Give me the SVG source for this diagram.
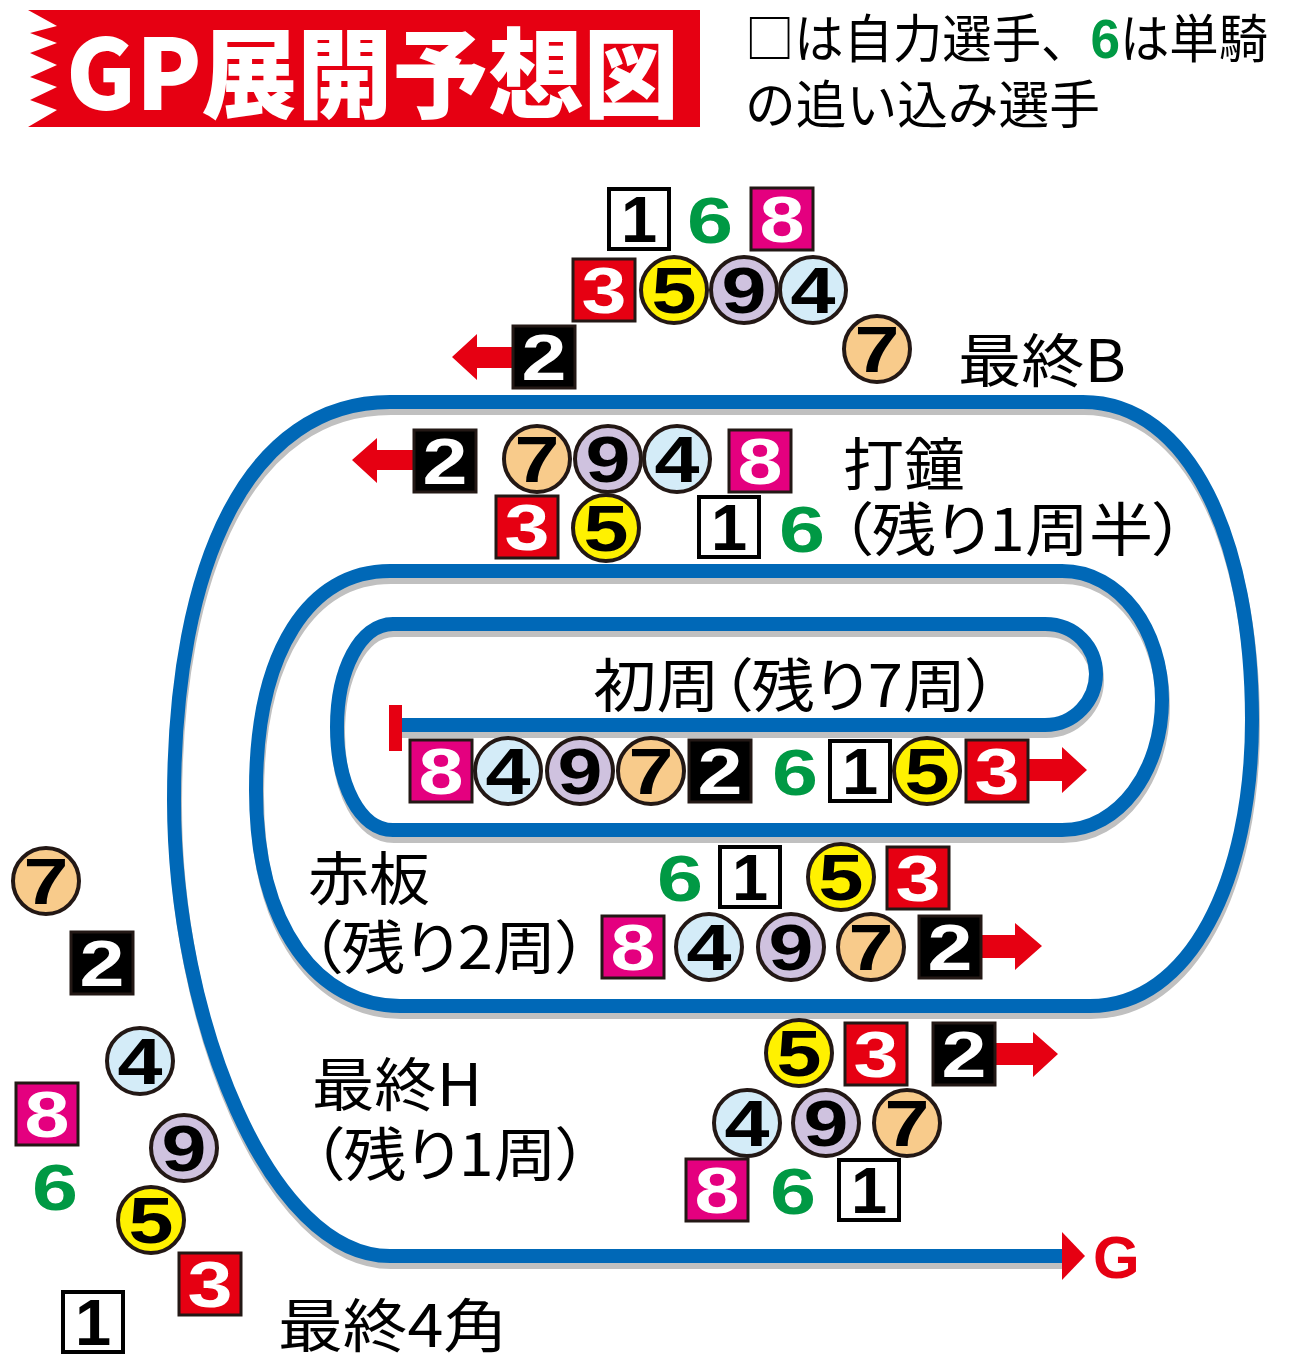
<svg xmlns="http://www.w3.org/2000/svg" width="1300" height="1365" viewBox="0 0 1300 1365">
<defs>
<style>
.trk{fill:none;stroke:#0068b7;stroke-width:14;stroke-linejoin:round}
.shd{fill:none;stroke:#c0c0c0;stroke-width:14;stroke-linejoin:round}
.sq{stroke:#231815;stroke-width:3}
.wsq{fill:#fff;stroke:#000;stroke-width:4}
.r{fill:#e60012}.m{fill:#e4007f}.k{fill:#000}
.c{stroke:#231815;stroke-width:4}
.y{fill:#fff100}.l{fill:#cfc2df}.b{fill:#d4ecf8}.o{fill:#f8cb8b}
.d{font-family:"Liberation Sans",Arial,sans-serif;font-weight:700;font-size:65px;text-anchor:middle}
.dw{fill:#fff}.dk{fill:#000}.dg{fill:#009944}
.lb{font-family:"Noto Sans CJK JP","Noto Sans",sans-serif;font-size:58px;fill:#000;font-feature-settings:"palt"}
.arr{fill:#e60012}
</style>
</defs>

<g id="title">
<polygon fill="#e60012" points="700,10 700,127 28,127 57,110 30,100 57,87 30,77 57,65 30,53 57,43 30,33 57,26 28,10"/>
<text x="66" y="110" font-family="'Noto Sans CJK JP',sans-serif" font-weight="900" font-size="98" fill="#fff" textLength="613" lengthAdjust="spacingAndGlyphs">GP展開予想図</text>
</g>

<g id="legend" font-family="'Noto Sans CJK JP','Noto Sans',sans-serif" font-size="52" fill="#000">
<text x="745" y="58" textLength="523" lengthAdjust="spacingAndGlyphs">□は自力選手、<tspan fill="#009944" font-family="'Liberation Sans',Arial,sans-serif" font-weight="700" font-size="56">6</tspan>は単騎</text>
<text x="745" y="124" textLength="355" lengthAdjust="spacingAndGlyphs">の追い込み選手</text>
</g>

<g id="connectors">
<path id="track-shadow" class="shd" transform="translate(1,6)" d="M 400,725 H 1045 C 1075,725 1096,700 1096,674 C 1096,647 1075,624 1045,624 H 393 C 360,624 337,670 337,727 C 337,785 360,830 393,830 H 1062 C 1120,830 1162,770 1162,700 C 1162,630 1120,571 1062,571 H 390 C 310,571 256,650 256,790 C 256,930 320,1006 400,1006 H 1090 C 1190,1006 1252,880 1252,720 C 1252,540 1190,402 1083,402 H 390 C 250,402 174,560 174,800 C 174,1020 270,1256 390,1256 H 1062"/>
<path id="track" class="trk" d="M 400,725 H 1045 C 1075,725 1096,700 1096,674 C 1096,647 1075,624 1045,624 H 393 C 360,624 337,670 337,727 C 337,785 360,830 393,830 H 1062 C 1120,830 1162,770 1162,700 C 1162,630 1120,571 1062,571 H 390 C 310,571 256,650 256,790 C 256,930 320,1006 400,1006 H 1090 C 1190,1006 1252,880 1252,720 C 1252,540 1190,402 1083,402 H 390 C 250,402 174,560 174,800 C 174,1020 270,1256 390,1256 H 1062"/>
<rect id="start-bar" x="389" y="705" width="13" height="46" fill="#e60012"/>
<polygon id="goal-arrow" class="arr" points="1062,1232 1085,1256 1062,1280"/>
<polygon class="arr" points="452,357 477,334 477,347 514,347 514,368 477,368 477,380"/>
<polygon class="arr" points="352,460 377,438 377,450 415,450 415,470 377,470 377,483"/>
<polygon class="arr" points="1087,770 1062,747 1062,759 1028,759 1028,781 1062,781 1062,793"/>
<polygon class="arr" points="1042,946 1015,923 1015,935 980,935 980,958 1015,958 1015,970"/>
<polygon class="arr" points="1058,1054 1033,1032 1033,1043 995,1043 995,1065 1033,1065 1033,1077"/>
</g>

<g id="labels">
<text class="lb" x="958" y="382" font-size="60" textLength="168" lengthAdjust="spacingAndGlyphs">最終B</text>
<text class="lb" x="843" y="486" font-size="62" textLength="122" lengthAdjust="spacingAndGlyphs">打鐘</text>
<text class="lb" x="840" y="551" textLength="345" lengthAdjust="spacingAndGlyphs">（残り1周半）</text>
<text class="lb" x="593" y="707" textLength="405" lengthAdjust="spacingAndGlyphs">初周（残り7周）</text>
<text class="lb" x="308" y="900" font-size="60" textLength="122" lengthAdjust="spacingAndGlyphs">赤板</text>
<text class="lb" x="310" y="969" font-size="60" textLength="278" lengthAdjust="spacingAndGlyphs">（残り2周）</text>
<text class="lb" x="312" y="1106" textLength="170" lengthAdjust="spacingAndGlyphs">最終H</text>
<text class="lb" x="312" y="1176" textLength="276" lengthAdjust="spacingAndGlyphs">（残り1周）</text>
<text class="lb" x="278" y="1347" textLength="230" lengthAdjust="spacingAndGlyphs">最終4角</text>
<text x="1093" y="1278" font-family="'Liberation Sans',Arial,sans-serif" font-weight="700" font-size="60" fill="#e60012">G</text>
</g>

<!-- 最終B -->
<g id="B-1" transform="translate(639,219)"><rect class="wsq" x="-30" y="-30" width="60" height="60"/><text class="d dk" y="23">1</text></g>
<g id="B-6" transform="translate(710,219)"><text class="d dg" y="24" textLength="46" lengthAdjust="spacingAndGlyphs">6</text></g>
<g id="B-8" transform="translate(782,219)"><rect class="sq m" x="-31" y="-31" width="62" height="62"/><text class="d dw" y="23" textLength="45" lengthAdjust="spacingAndGlyphs">8</text></g>
<g id="B-3" transform="translate(604,290)"><rect class="sq r" x="-31" y="-31" width="62" height="62"/><text class="d dw" y="23" textLength="45" lengthAdjust="spacingAndGlyphs">3</text></g>
<g id="B-5" transform="translate(674,290)"><circle class="c y" r="33"/><text class="d dk" y="23" textLength="45" lengthAdjust="spacingAndGlyphs">5</text></g>
<g id="B-9" transform="translate(744,290)"><circle class="c l" r="33"/><text class="d dk" y="23" textLength="45" lengthAdjust="spacingAndGlyphs">9</text></g>
<g id="B-4" transform="translate(813,290)"><circle class="c b" r="33"/><text class="d dk" y="23" textLength="45" lengthAdjust="spacingAndGlyphs">4</text></g>
<g id="B-7" transform="translate(877,349)"><circle class="c o" r="33"/><text class="d dk" y="23" textLength="45" lengthAdjust="spacingAndGlyphs">7</text></g>
<g id="B-2" transform="translate(544,357)"><rect class="sq k" x="-31" y="-31" width="62" height="62"/><text class="d dw" y="23" textLength="45" lengthAdjust="spacingAndGlyphs">2</text></g>

<!-- 打鐘 -->
<g id="D-2" transform="translate(445,461)"><rect class="sq k" x="-31" y="-31" width="62" height="62"/><text class="d dw" y="23" textLength="45" lengthAdjust="spacingAndGlyphs">2</text></g>
<g id="D-7" transform="translate(537,459)"><circle class="c o" r="33"/><text class="d dk" y="23" textLength="45" lengthAdjust="spacingAndGlyphs">7</text></g>
<g id="D-9" transform="translate(608,459)"><circle class="c l" r="33"/><text class="d dk" y="23" textLength="45" lengthAdjust="spacingAndGlyphs">9</text></g>
<g id="D-4" transform="translate(677,459)"><circle class="c b" r="33"/><text class="d dk" y="23" textLength="45" lengthAdjust="spacingAndGlyphs">4</text></g>
<g id="D-8" transform="translate(760,461)"><rect class="sq m" x="-31" y="-31" width="62" height="62"/><text class="d dw" y="23" textLength="45" lengthAdjust="spacingAndGlyphs">8</text></g>
<g id="D-3" transform="translate(527,527)"><rect class="sq r" x="-31" y="-31" width="62" height="62"/><text class="d dw" y="23" textLength="45" lengthAdjust="spacingAndGlyphs">3</text></g>
<g id="D-5" transform="translate(606,528)"><circle class="c y" r="33"/><text class="d dk" y="23" textLength="45" lengthAdjust="spacingAndGlyphs">5</text></g>
<g id="D-1" transform="translate(729,527)"><rect class="wsq" x="-30" y="-30" width="60" height="60"/><text class="d dk" y="23">1</text></g>
<g id="D-6" transform="translate(802,528)"><text class="d dg" y="24" textLength="46" lengthAdjust="spacingAndGlyphs">6</text></g>

<!-- 初周 -->
<g id="S-8" transform="translate(441,771)"><rect class="sq m" x="-31" y="-31" width="62" height="62"/><text class="d dw" y="23" textLength="45" lengthAdjust="spacingAndGlyphs">8</text></g>
<g id="S-4" transform="translate(508,771)"><circle class="c b" r="33"/><text class="d dk" y="23" textLength="45" lengthAdjust="spacingAndGlyphs">4</text></g>
<g id="S-9" transform="translate(580,771)"><circle class="c l" r="33"/><text class="d dk" y="23" textLength="45" lengthAdjust="spacingAndGlyphs">9</text></g>
<g id="S-7" transform="translate(651,771)"><circle class="c o" r="33"/><text class="d dk" y="23" textLength="45" lengthAdjust="spacingAndGlyphs">7</text></g>
<g id="S-2" transform="translate(720,771)"><rect class="sq k" x="-31" y="-31" width="62" height="62"/><text class="d dw" y="23" textLength="45" lengthAdjust="spacingAndGlyphs">2</text></g>
<g id="S-6" transform="translate(795,771)"><text class="d dg" y="24" textLength="46" lengthAdjust="spacingAndGlyphs">6</text></g>
<g id="S-1" transform="translate(860,771)"><rect class="wsq" x="-30" y="-30" width="60" height="60"/><text class="d dk" y="23">1</text></g>
<g id="S-5" transform="translate(927,771)"><circle class="c y" r="33"/><text class="d dk" y="23" textLength="45" lengthAdjust="spacingAndGlyphs">5</text></g>
<g id="S-3" transform="translate(997,771)"><rect class="sq r" x="-31" y="-31" width="62" height="62"/><text class="d dw" y="23" textLength="45" lengthAdjust="spacingAndGlyphs">3</text></g>

<!-- 赤板 -->
<g id="A-6" transform="translate(680,877)"><text class="d dg" y="24" textLength="46" lengthAdjust="spacingAndGlyphs">6</text></g>
<g id="A-1" transform="translate(750,877)"><rect class="wsq" x="-30" y="-30" width="60" height="60"/><text class="d dk" y="23">1</text></g>
<g id="A-5" transform="translate(841,877)"><circle class="c y" r="33"/><text class="d dk" y="23" textLength="45" lengthAdjust="spacingAndGlyphs">5</text></g>
<g id="A-3" transform="translate(918,878)"><rect class="sq r" x="-31" y="-31" width="62" height="62"/><text class="d dw" y="23" textLength="45" lengthAdjust="spacingAndGlyphs">3</text></g>
<g id="A-8" transform="translate(633,947)"><rect class="sq m" x="-31" y="-31" width="62" height="62"/><text class="d dw" y="23" textLength="45" lengthAdjust="spacingAndGlyphs">8</text></g>
<g id="A-4" transform="translate(709,947)"><circle class="c b" r="33"/><text class="d dk" y="23" textLength="45" lengthAdjust="spacingAndGlyphs">4</text></g>
<g id="A-9" transform="translate(791,947)"><circle class="c l" r="33"/><text class="d dk" y="23" textLength="45" lengthAdjust="spacingAndGlyphs">9</text></g>
<g id="A-7" transform="translate(871,947)"><circle class="c o" r="33"/><text class="d dk" y="23" textLength="45" lengthAdjust="spacingAndGlyphs">7</text></g>
<g id="A-2" transform="translate(950,947)"><rect class="sq k" x="-31" y="-31" width="62" height="62"/><text class="d dw" y="23" textLength="45" lengthAdjust="spacingAndGlyphs">2</text></g>

<!-- 最終H -->
<g id="H-5" transform="translate(799,1053)"><circle class="c y" r="33"/><text class="d dk" y="23" textLength="45" lengthAdjust="spacingAndGlyphs">5</text></g>
<g id="H-3" transform="translate(876,1054)"><rect class="sq r" x="-31" y="-31" width="62" height="62"/><text class="d dw" y="23" textLength="45" lengthAdjust="spacingAndGlyphs">3</text></g>
<g id="H-2" transform="translate(964,1054)"><rect class="sq k" x="-31" y="-31" width="62" height="62"/><text class="d dw" y="23" textLength="45" lengthAdjust="spacingAndGlyphs">2</text></g>
<g id="H-4" transform="translate(747,1123)"><circle class="c b" r="33"/><text class="d dk" y="23" textLength="45" lengthAdjust="spacingAndGlyphs">4</text></g>
<g id="H-9" transform="translate(826,1123)"><circle class="c l" r="33"/><text class="d dk" y="23" textLength="45" lengthAdjust="spacingAndGlyphs">9</text></g>
<g id="H-7" transform="translate(907,1123)"><circle class="c o" r="33"/><text class="d dk" y="23" textLength="45" lengthAdjust="spacingAndGlyphs">7</text></g>
<g id="H-8" transform="translate(717,1190)"><rect class="sq m" x="-31" y="-31" width="62" height="62"/><text class="d dw" y="23" textLength="45" lengthAdjust="spacingAndGlyphs">8</text></g>
<g id="H-6" transform="translate(793,1190)"><text class="d dg" y="24" textLength="46" lengthAdjust="spacingAndGlyphs">6</text></g>
<g id="H-1" transform="translate(869,1190)"><rect class="wsq" x="-30" y="-30" width="60" height="60"/><text class="d dk" y="23">1</text></g>

<!-- 最終4角 -->
<g id="K-7" transform="translate(46,881)"><circle class="c o" r="33"/><text class="d dk" y="23" textLength="45" lengthAdjust="spacingAndGlyphs">7</text></g>
<g id="K-2" transform="translate(102,963)"><rect class="sq k" x="-31" y="-31" width="62" height="62"/><text class="d dw" y="23" textLength="45" lengthAdjust="spacingAndGlyphs">2</text></g>
<g id="K-4" transform="translate(140,1061)"><circle class="c b" r="33"/><text class="d dk" y="23" textLength="45" lengthAdjust="spacingAndGlyphs">4</text></g>
<g id="K-8" transform="translate(47,1114)"><rect class="sq m" x="-31" y="-31" width="62" height="62"/><text class="d dw" y="23" textLength="45" lengthAdjust="spacingAndGlyphs">8</text></g>
<g id="K-9" transform="translate(184,1148)"><circle class="c l" r="33"/><text class="d dk" y="23" textLength="45" lengthAdjust="spacingAndGlyphs">9</text></g>
<g id="K-6" transform="translate(55,1186)"><text class="d dg" y="24" textLength="46" lengthAdjust="spacingAndGlyphs">6</text></g>
<g id="K-5" transform="translate(151,1220)"><circle class="c y" r="33"/><text class="d dk" y="23" textLength="45" lengthAdjust="spacingAndGlyphs">5</text></g>
<g id="K-3" transform="translate(210,1284)"><rect class="sq r" x="-31" y="-31" width="62" height="62"/><text class="d dw" y="23" textLength="45" lengthAdjust="spacingAndGlyphs">3</text></g>
<g id="K-1" transform="translate(93,1322)"><rect class="wsq" x="-30" y="-30" width="60" height="60"/><text class="d dk" y="23">1</text></g>
</svg>
